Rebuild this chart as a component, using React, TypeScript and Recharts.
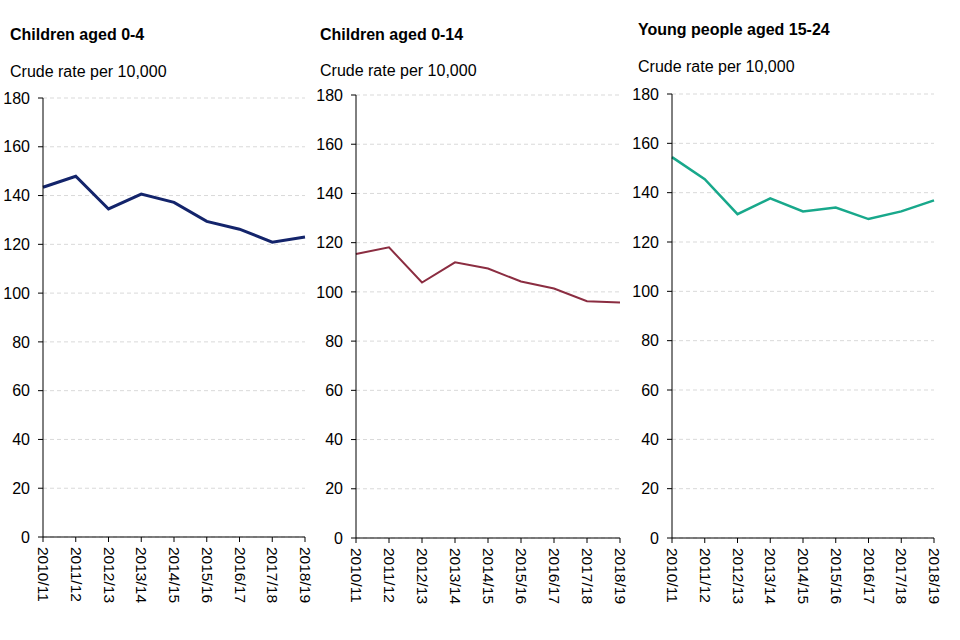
import React from 'react';
import { LineChart, Line, XAxis, YAxis, CartesianGrid } from 'recharts';

const years = ['2010/11', '2011/12', '2012/13', '2013/14', '2014/15', '2015/16', '2016/17', '2017/18', '2018/19'];
const aged0to4 = [143.4, 147.9, 134.5, 140.6, 137.2, 129.4, 126.2, 120.9, 123.0];
const aged0to14 = [115.4, 118.1, 103.8, 112.0, 109.5, 104.2, 101.4, 96.2, 95.7];
const aged15to24 = [154.4, 145.5, 131.3, 137.7, 132.4, 134.0, 129.3, 132.4, 136.9];
const yTicks = [0, 20, 40, 60, 80, 100, 120, 140, 160, 180];
const subtitle = 'Crude rate per 10,000';

const FONT = '"Liberation Sans", Arial, sans-serif';

const XTick = (props: any) => {
  const { x, y, payload } = props;
  return (
    <text
      x={x}
      y={y}
      dy={5}
      transform={`rotate(90, ${x}, ${y})`}
      textAnchor="start"
      fontSize={15.5}
      fontFamily={FONT}
      fill="#000"
    >
      {payload.value}
    </text>
  );
};

type PanelProps = {
  title: string;
  values: number[];
  color: string;
  strokeWidth: number;
  plotLeft: number;
  plotRight: number;
  plotTop: number;
  plotBottom: number;
  titleX: number;
  titleY: number;
  subY: number;
};

const Panel = (p: PanelProps) => {
  const data = years.map((y, i) => ({ year: y, value: p.values[i] }));
  const yAxisW = 43;
  const mTop = 18;
  const mRight = 15;
  const xAxisH = 70;
  const mBottom = 33;
  const left = p.plotLeft - yAxisW;
  const top = p.plotTop - mTop;
  const width = p.plotRight + mRight - left;
  const height = p.plotBottom - p.plotTop + mTop + xAxisH + mBottom;
  return (
    <>
      <div
        style={{
          position: 'absolute',
          left: p.titleX,
          top: p.titleY - 9,
          fontFamily: FONT,
          fontSize: 16,
          fontWeight: 'bold',
          lineHeight: '18px',
          whiteSpace: 'nowrap',
          color: '#000',
        }}
      >
        {p.title}
      </div>
      <div
        style={{
          position: 'absolute',
          left: p.titleX,
          top: p.subY - 9,
          fontFamily: FONT,
          fontSize: 16,
          lineHeight: '18px',
          whiteSpace: 'nowrap',
          color: '#000',
        }}
      >
        {subtitle}
      </div>
      <div style={{ position: 'absolute', left, top, width, height }}>
        <LineChart
          width={width}
          height={height}
          data={data}
          margin={{ top: mTop, right: mRight, bottom: mBottom, left: 0 }}
        >
          <CartesianGrid vertical={false} stroke="#d9d9d9" strokeDasharray="4 3" />
          <XAxis
            dataKey="year"
            interval={0}
            height={xAxisH}
            tick={<XTick />}
            tickSize={5}
            tickMargin={5}
            stroke="#000"
            axisLine={{ stroke: '#000' }}
            tickLine={{ stroke: '#000' }}
          />
          <YAxis
            width={yAxisW}
            domain={[0, 180]}
            ticks={yTicks}
            interval={0}
            tickSize={5}
            tickMargin={8}
            axisLine={{ stroke: '#000' }}
            tickLine={{ stroke: '#000' }}
            tick={{ fill: '#000', fontSize: 16, fontFamily: FONT }}
          />
          <Line
            type="linear"
            dataKey="value"
            stroke={p.color}
            strokeWidth={p.strokeWidth}
            dot={false}
            activeDot={false}
            isAnimationActive={false}
          />
        </LineChart>
      </div>
    </>
  );
};

export default function App() {
  return (
    <div style={{ position: 'absolute', left: 0, top: 0, width: 960, height: 640, background: '#fff' }}>
      <Panel
        title="Children aged 0-4"
        values={aged0to4}
        color="#13246b"
        strokeWidth={3}
        plotLeft={43}
        plotRight={305}
        plotTop={98}
        plotBottom={537}
        titleX={10}
        titleY={35}
        subY={72}
      />
      <Panel
        title="Children aged 0-14"
        values={aged0to14}
        color="#8b2d41"
        strokeWidth={2}
        plotLeft={356}
        plotRight={620}
        plotTop={95}
        plotBottom={538}
        titleX={320}
        titleY={35}
        subY={71}
      />
      <Panel
        title="Young people aged 15-24"
        values={aged15to24}
        color="#18a88b"
        strokeWidth={2.5}
        plotLeft={672}
        plotRight={934}
        plotTop={94}
        plotBottom={538}
        titleX={638}
        titleY={30}
        subY={67}
      />
    </div>
  );
}
